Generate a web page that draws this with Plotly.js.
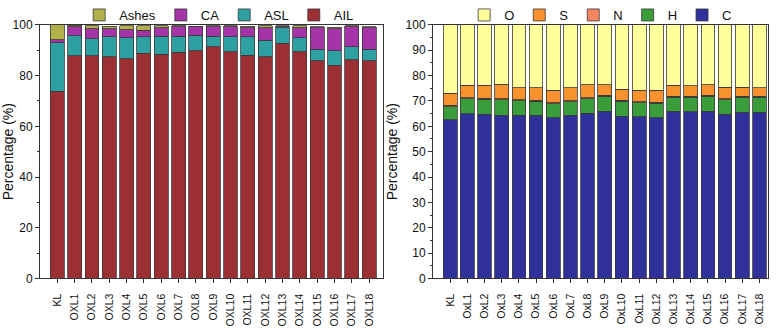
<!DOCTYPE html>
<html>
<head>
<meta charset="utf-8">
<script src="https://cdn.plot.ly/plotly-3.0.1.min.js"></script>
<style>
  html, body { margin: 0; padding: 0; background: #fff; }
  #plot { width: 784px; height: 330px; }
</style>
</head>
<body>
<div id="plot"></div>
<script>
// left panel: lignin fractions
const samplesL = ['KL', 'OXL1', 'OXL2', 'OXL3', 'OXL4', 'OXL5', 'OXL6', 'OXL7', 'OXL8', 'OXL9',
  'OXL10', 'OXL11', 'OXL12', 'OXL13', 'OXL14', 'OXL15', 'OXL16', 'OXL17', 'OXL18'];
const ail   = [73.8, 87.9, 87.9, 87.5, 86.7, 88.8, 88.4, 89.2, 89.8, 91.4, 89.4, 88.1, 87.5, 92.7, 89.4, 85.8, 84.0, 86.2, 85.8];
const asl   = [19.1, 7.8, 6.7, 7.8, 8.3, 6.5, 7.1, 6.3, 6.1, 4.1, 5.9, 7.2, 6.5, 6.2, 5.5, 4.6, 5.8, 5.2, 4.5];
const ca    = [1.3, 3.5, 3.9, 3.2, 3.1, 2.6, 3.4, 3.7, 3.3, 3.7, 3.9, 3.6, 4.9, 0.3, 4.0, 8.5, 8.7, 7.8, 8.6];
const ashes = [5.8, 0.6, 1.2, 1.0, 1.5, 1.8, 0.7, 0.4, 0.3, 0.4, 0.4, 0.5, 0.7, 0.4, 0.7, 0.4, 0.5, 0.4, 0.3];

// right panel: elemental composition
const samplesR = ['KL', 'OxL1', 'OxL2', 'OxL3', 'OxL4', 'OxL5', 'OxL6', 'OxL7', 'OxL8', 'OxL9',
  'OxL10', 'OxL11', 'OxL12', 'OxL13', 'OxL14', 'OxL15', 'OxL16', 'OxL17', 'OxL18'];
const elC = [62.5, 64.9, 64.7, 64.4, 64.4, 64.3, 63.4, 64.4, 65.1, 66.0, 64.0, 63.7, 63.4, 66.0, 65.7, 66.0, 64.7, 65.6, 65.6];
const elH = [5.3, 5.9, 5.9, 6.0, 5.7, 5.6, 5.4, 5.2, 5.7, 5.8, 5.9, 5.5, 5.6, 5.4, 5.7, 5.8, 5.8, 5.8, 5.8];
const elN = [0.5, 0.4, 0.4, 0.4, 0.4, 0.4, 0.4, 0.4, 0.4, 0.4, 0.4, 0.4, 0.4, 0.4, 0.4, 0.4, 0.4, 0.4, 0.4];
const elS = [4.8, 4.9, 5.1, 5.8, 4.8, 5.0, 5.0, 5.3, 5.2, 4.2, 4.4, 4.6, 4.8, 4.3, 4.2, 4.2, 4.6, 3.7, 3.5];
const elO = [26.9, 23.9, 23.9, 23.4, 24.7, 24.7, 25.8, 24.7, 23.6, 23.6, 25.3, 25.8, 25.8, 23.9, 24.0, 23.6, 24.5, 24.5, 24.7];

const font = 'Arial, "Liberation Sans", sans-serif';
const outline = { color: '#3a3a3a', width: 0.8 };

function bar(x, y, name, color, xa, ya, legend) {
  return { type: 'bar', x: x, y: y, name: name, xaxis: xa, yaxis: ya, legend: legend,
    marker: { color: color, line: outline }, hoverinfo: 'y+name' };
}

const data = [
  bar(samplesL, ail, 'AIL', '#9c2f33', 'x', 'y', 'legend'),
  bar(samplesL, asl, 'ASL', '#2fa0a2', 'x', 'y', 'legend'),
  bar(samplesL, ca, 'CA', '#a434a8', 'x', 'y', 'legend'),
  bar(samplesL, ashes, 'Ashes', '#b2b048', 'x', 'y', 'legend'),
  bar(samplesR, elC, 'C', '#30309a', 'x2', 'y2', 'legend2'),
  bar(samplesR, elH, 'H', '#3a9c3a', 'x2', 'y2', 'legend2'),
  bar(samplesR, elN, 'N', '#f3855f', 'x2', 'y2', 'legend2'),
  bar(samplesR, elS, 'S', '#f7922f', 'x2', 'y2', 'legend2'),
  bar(samplesR, elO, 'O', '#ffff9c', 'x2', 'y2', 'legend2')
];

const xCommon = {
  type: 'category', tickangle: -90, ticks: 'outside', ticklen: 4, tickcolor: '#333',
  showline: true, linecolor: '#333', linewidth: 1, mirror: true, ticklabelstandoff: 6,
  tickfont: { family: font, size: 10.5, color: '#111' }, showgrid: false, zeroline: false
};
const yCommon = {
  range: [0, 100], ticks: 'outside', ticklen: 4, tickcolor: '#333',
  showline: true, linecolor: '#333', linewidth: 1, mirror: true,
  tickfont: { family: font, size: 12, color: '#111' }, showgrid: false, zeroline: false,
  title: { text: 'Percentage (%)', font: { family: font, size: 14, color: '#111' }, standoff: 4 }
};
const legendCommon = {
  orientation: 'h', traceorder: 'reversed', yref: 'paper', y: 0.967, yanchor: 'middle',
  xanchor: 'left', font: { family: font, size: 13, color: '#111' }, bgcolor: 'rgba(0,0,0,0)',
  itemwidth: 30, tracegroupgap: 0
};

const layout = {
  width: 784, height: 330,
  margin: { l: 0, r: 0, t: 0, b: 0 },
  paper_bgcolor: '#fff', plot_bgcolor: '#fff',
  barmode: 'stack', bargap: 0.2,
  showlegend: true,
  xaxis: Object.assign({}, xCommon, { domain: [0.051, 0.4885], range: [-1, 18.8], anchor: 'y' }),
  yaxis: Object.assign({}, yCommon, { domain: [0.158, 0.936], dtick: 20, anchor: 'x',
    minor: { ticks: 'outside', ticklen: 2, dtick: 10, tickcolor: '#333' } }),
  xaxis2: Object.assign({}, xCommon, { domain: [0.5523, 0.9796], range: [-1, 18.5], anchor: 'y2' }),
  yaxis2: Object.assign({}, yCommon, { domain: [0.158, 0.936], dtick: 10, anchor: 'x2',
    minor: { ticks: 'outside', ticklen: 2, dtick: 5, tickcolor: '#333' } }),
  legend: Object.assign({}, legendCommon, { x: 0.101 }),
  legend2: Object.assign({}, legendCommon, { x: 0.592 })
};

Plotly.newPlot('plot', data, layout, { displayModeBar: false, staticPlot: true });
</script>
</body>
</html>
